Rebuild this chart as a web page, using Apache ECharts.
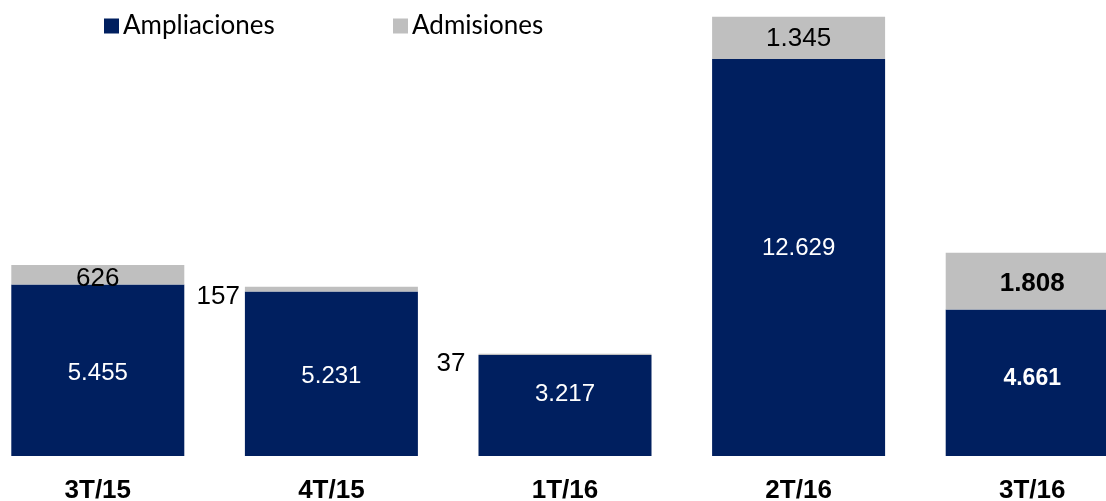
<!DOCTYPE html>
<html>
<head>
<meta charset="utf-8">
<script src="https://cdn.jsdelivr.net/npm/echarts@6/dist/echarts.min.js"></script>
<style>html,body{margin:0;padding:0;background:#fff}#c{width:1106px;height:501px}</style>
</head>
<body>
<div id="c"></div>
<script>
// ---- data ----
const categories = ['3T/15', '4T/15', '1T/16', '2T/16', '3T/16'];
const ampliaciones = [5455, 5231, 3217, 12629, 4661];
const admisiones = [626, 157, 37, 1345, 1808];

// ---- label styling (separate from data) ----
const ampLabelOffsetY = [3, 3, -11, -9, -4];
const ampLabelBold = [false, false, false, false, true];
const admLabelPos = ['inside', 'left', 'left', 'inside', 'inside'];
const admLabelDist = [0, 5, 13, 0, 0];
const admLabelOffsetY = [4, 8, 10, 1, 3];
const admLabelBold = [false, false, false, false, true];

const NAVY = '#001F5F';
const GREY = '#BFBFBF';
const fmt = v => String(v).replace(/\B(?=(\d{3})+(?!\d))/g, '.');

const ampData = ampliaciones.map((v, i) => ({
  value: v,
  label: {
    offset: [0, ampLabelOffsetY[i]],
    fontWeight: ampLabelBold[i] ? 'bold' : 'normal',
    fontSize: ampLabelBold[i] ? 23 : 24
  }
}));
const admData = admisiones.map((v, i) => ({
  value: v,
  label: {
    position: admLabelPos[i],
    distance: admLabelDist[i],
    offset: [0, admLabelOffsetY[i]],
    fontWeight: admLabelBold[i] ? 'bold' : 'normal'
  }
}));

const legendText = {fontFamily: 'Lato, "Liberation Sans", sans-serif', fontSize: 26, color: '#000', padding: [0, 0, 0, -1]};
const chart = echarts.init(document.getElementById('c'), null, {renderer: 'canvas'});
chart.setOption({
  animation: false,
  backgroundColor: '#fff',
  legend: [
    {data: ['Ampliaciones'], left: 99, top: 8, itemWidth: 15, itemHeight: 15, itemGap: 0, icon: 'rect', textStyle: legendText},
    {data: ['Admisiones'], left: 388, top: 8, itemWidth: 15, itemHeight: 15, itemGap: 0, icon: 'rect', textStyle: legendText}
  ],
  grid: {left: -19, width: 1168, top: 16, bottom: 45, containLabel: false, outerBoundsMode: 'none'},
  xAxis: {
    type: 'category',
    data: categories,
    axisLine: {show: false},
    axisTick: {show: false},
    axisLabel: {
      margin: 22,
      fontFamily: '"Liberation Sans", Arial, sans-serif',
      fontWeight: 'bold',
      fontSize: 26,
      color: '#000',
      interval: 0
    }
  },
  yAxis: {type: 'value', min: 0, max: 14000, show: false, splitLine: {show: false}},
  series: [
    {
      name: 'Ampliaciones', type: 'bar', stack: 'total', barWidth: 173,
      itemStyle: {color: NAVY},
      label: {
        show: true, position: 'inside', color: '#fff',
        fontFamily: '"Liberation Sans", Arial, sans-serif', fontSize: 24,
        formatter: p => fmt(p.value)
      },
      data: ampData
    },
    {
      name: 'Admisiones', type: 'bar', stack: 'total', barWidth: 173,
      itemStyle: {color: GREY},
      label: {
        show: true, position: 'inside', color: '#000',
        fontFamily: '"Liberation Sans", Arial, sans-serif', fontSize: 26,
        formatter: p => fmt(p.value)
      },
      data: admData
    }
  ]
});
</script>
</body>
</html>
